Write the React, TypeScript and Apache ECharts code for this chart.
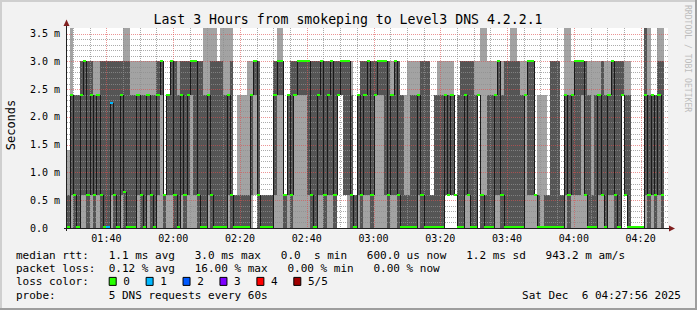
import { useEffect, useRef } from 'react';
import * as echarts from 'echarts';

// ---- time frame (minutes since midnight) ----
const FIRST_COLUMN_MINUTE = 88; // 01:28, each column = 1 minute step
const VIEW_START = 88.2;
const VIEW_END = 268.2;

// ---- smoke: 5 sorted pings per minute (ms) ----
const pingMin = [
  0, 0, 0, 0, 0, 0, 0, 0, 0, 0,
  0, 0, 0, 0, 0, 0, 0, 0, 0, 0,
  0, 0, 0, 0, 0, 0, 0, 0, 0, 0,
  0, 0, 0, 0, 0, 0, 0, 0, 0, 0,
  0, 0, 0, 0, 0, 0, 0, 0, 0, 0,
  0, 0, 0, 0, 0, 0, 0.6, 0, 0, 0,
  0, 0, 0, 0, 0, 0, 0, 0, 0, 0,
  0, 0, 0, 0, 0, 0, 0, 0, 0, 0,
  0, 2.4, 2.4, 0.6, 0, 0, 0, 0, 0, 0,
  0, 0, 0, 0, 0, 0, 0, 0, 0, 0,
  0, 0, 0, 0, 0, 0, 0, 0, 0, 0,
  0, 0, 0, 0.6, 0.6, 0.6, 0.6, 0, 0, 0,
  0, 0, 0, 2.4, 0, 0, 0, 0, 0, 0,
  0, 0, 0, 0, 0, 0, 0, 0, 0, 0,
  0, 0, 0, 0, 0, 0, 0, 0, 0, 0,
  0, 0, 0, 0, 0, 0, 0, 0, 0, 0,
  0, 0, 0, 0, 0, 0, 2.4, 0.6, 0, 0,
  0, 0, 0, 0, 0, 0, 0, 0, 0,
];
const pingQ1 = [
  0, 0.6, 0, 0, 0.6, 0.6, 0, 0.6, 0, 0.6,
  0, 0, 0, 0.6, 0, 0, 0.6, 0, 0, 0,
  0, 0.6, 0, 0, 0.6, 0, 0, 0.6, 2.4, 0,
  0.6, 0.6, 0, 0, 0.6, 0, 0.6, 2.4, 0.6, 0,
  0, 0, 0.6, 0, 0, 0, 0, 0, 0.6, 0,
  0, 0, 0, 0, 0, 0.6, 2.4, 0, 0, 0,
  0, 0, 0.6, 2.4, 2.4, 0, 0.6, 0, 2.4, 2.4,
  2.4, 2.4, 0.6, 0, 0, 0.6, 0.6, 0, 0.6, 0.6,
  0, 2.4, 2.4, 0.6, 0.6, 0, 0, 0.6, 0, 0.6,
  0.6, 0, 2.4, 2.4, 2.4, 0.6, 0, 0.6, 0.6, 0,
  0, 0, 0, 0, 0, 0.6, 0, 0, 0, 0,
  0, 0, 0, 0.6, 0.6, 0.6, 0.6, 0, 0, 0.6,
  0.6, 0, 0, 2.4, 0, 0, 0, 0, 0.6, 0.6,
  0, 0, 0, 0, 0, 0, 0, 2.4, 0.6, 0.6,
  0.6, 0, 0, 0, 0, 0, 0, 0, 0, 0.6,
  0, 0.6, 0.6, 0.6, 2.4, 0.6, 0, 0, 0, 0.6,
  0.6, 0, 0.6, 0.6, 0, 0, 2.4, 0.6, 0, 0,
  0, 0, 0, 0.6, 0, 0.6, 0, 0.6, 0,
];
const medianRtt = [
  0, 2.4, 0.6, 0, 2.4, 3.0, 0.6, 2.4, 0.6, 2.4,
  0.6, 0, 0, 2.25, 0.6, 0, 2.4, 0.65, 0, 0,
  0, 2.4, 0.6, 0, 2.4, 0.6, 0, 2.4, 3.0, 0.6,
  2.4, 3.0, 0.6, 0, 2.4, 0.6, 2.4, 3.0, 3.0, 0.6,
  0, 0, 2.4, 0.6, 0, 0, 0, 0, 2.4, 0.6,
  0, 0, 0, 0, 0, 2.4, 3.0, 0.6, 0, 0,
  0, 0, 2.4, 3.0, 3.0, 0.6, 2.4, 0.6, 2.4, 3.0,
  3.0, 3.0, 3.0, 0.6, 0, 2.4, 3.0, 0.6, 2.4, 3.0,
  0.6, 2.4, 3.0, 3.0, 3.0, 0.6, 0, 2.4, 0.6, 2.4,
  3.0, 0.6, 2.4, 3.0, 3.0, 3.0, 0.6, 2.4, 3.0, 0.6,
  0, 0, 0, 0, 0, 2.4, 0.6, 0, 0, 0,
  0, 0, 0, 2.4, 0.6, 2.4, 0.6, 0, 0, 2.4,
  0.6, 0, 0, 2.4, 0.6, 0, 0, 0, 2.4, 3.0,
  0.6, 0, 0, 0, 0, 0, 0, 2.4, 3.0, 3.0,
  0.6, 0, 0, 0, 0, 0, 0, 0, 0, 2.4,
  0.6, 2.4, 3.0, 3.0, 3.0, 0.6, 0, 0, 0, 2.4,
  0.6, 0, 2.4, 3.0, 0.6, 0, 2.4, 0.6, 0, 0,
  0, 0, 0, 2.4, 0.6, 2.4, 0.6, 2.4, 0.6,
];
const pingQ3 = [
  0.6, 2.4, 2.4, 2.4, 3.0, 3.0, 3.0, 3.0, 2.4, 2.4,
  3.0, 3.0, 3.0, 3.0, 3.0, 3.0, 3.0, 3.0, 3.0, 2.4,
  2.4, 2.4, 2.4, 2.4, 2.4, 2.4, 2.4, 3.0, 3.0, 0.6,
  2.4, 3.0, 3.0, 2.4, 3.0, 3.0, 3.0, 3.0, 3.0, 3.0,
  3.0, 2.4, 2.4, 3.0, 3.0, 3.0, 3.0, 2.4, 2.4, 3.0,
  0.6, 0.6, 0.6, 0.6, 0.6, 2.4, 3.0, 3.0, 0.6, 0.6,
  0.6, 0.6, 3.0, 3.0, 3.0, 0.6, 2.4, 3.0, 3.0, 3.0,
  3.0, 3.0, 3.0, 3.0, 3.0, 3.0, 3.0, 3.0, 3.0, 3.0,
  3.0, 3.0, 3.0, 3.0, 3.0, 2.4, 0.6, 2.4, 3.0, 3.0,
  3.0, 3.0, 3.0, 3.0, 3.0, 3.0, 3.0, 2.4, 3.0, 3.0,
  2.4, 0.6, 0.6, 2.4, 2.4, 2.4, 3.0, 3.0, 3.0, 0.6,
  2.4, 2.4, 2.4, 2.4, 2.4, 2.4, 0.6, 2.4, 3.0, 3.0,
  3.0, 3.0, 2.4, 2.4, 0.6, 0.6, 2.4, 2.4, 2.4, 3.0,
  2.4, 3.0, 3.0, 3.0, 3.0, 3.0, 2.4, 2.4, 3.0, 3.0,
  0.6, 0.6, 0, 0.6, 0.6, 3.0, 3.0, 3.0, 0.6, 2.4,
  2.4, 2.4, 3.0, 3.0, 3.0, 3.0, 2.4, 0.6, 2.4, 2.4,
  3.0, 2.4, 2.4, 3.0, 3.0, 3.0, 3.0, 2.4, 2.4, 0,
  0, 0, 0, 3.6, 2.4, 2.4, 2.4, 3.0, 3.0,
];
const pingMax = [
  1.4, 3.6, 2.4, 2.4, 3.0, 3.0, 3.0, 3.0, 3.0, 3.0,
  3.0, 3.0, 3.0, 3.0, 3.0, 3.0, 3.0, 3.6, 3.6, 3.0,
  3.0, 3.0, 3.0, 3.0, 3.0, 3.0, 3.0, 3.0, 3.0, 0.6,
  2.4, 3.0, 3.0, 3.0, 3.0, 3.0, 3.0, 3.0, 3.0, 3.0,
  3.0, 3.6, 3.6, 3.6, 3.6, 3.0, 3.6, 3.6, 3.6, 3.6,
  0.6, 2.4, 2.4, 2.4, 3.0, 3.0, 3.0, 3.0, 0.6, 0.6,
  0.6, 0.6, 3.0, 3.6, 3.6, 0.6, 2.4, 3.0, 3.0, 3.0,
  3.0, 3.0, 3.0, 3.0, 3.0, 3.0, 3.0, 3.0, 3.0, 3.0,
  3.0, 3.0, 3.0, 3.0, 3.0, 3.0, 0.6, 2.4, 3.0, 3.0,
  3.0, 3.0, 3.0, 3.0, 3.0, 3.0, 3.0, 3.0, 3.0, 3.0,
  2.4, 2.4, 3.0, 3.0, 3.0, 3.0, 3.0, 3.0, 3.0, 0.6,
  2.4, 3.0, 3.0, 3.0, 3.0, 3.0, 0.6, 2.4, 3.0, 3.0,
  3.0, 3.0, 3.0, 3.0, 3.6, 3.6, 3.0, 3.0, 3.0, 3.0,
  3.0, 3.0, 3.0, 3.6, 3.6, 3.0, 3.0, 3.0, 3.0, 3.0,
  0.6, 2.4, 2.4, 2.4, 0.6, 3.0, 3.0, 3.0, 0.6, 3.6,
  3.6, 3.0, 3.0, 3.0, 3.0, 3.0, 3.0, 3.0, 3.0, 3.0,
  3.0, 3.0, 3.0, 3.0, 3.0, 3.0, 3.0, 3.0, 3.0, 0,
  0, 0, 0, 3.6, 3.6, 2.4, 2.4, 3.6, 3.6,
];
// lost pings per minute (out of 5)
const lostPings = [
  0, 0, 0, 0, 0, 0, 0, 0, 0, 0,
  0, 0, 1, 1, 0, 0, 0, 0, 0, 0,
];

// ---- axes ----
const xLabelMinutes = [100, 120, 140, 160, 180, 200, 220, 240, 260];
const yLabelValues = [0, 0.5, 1.0, 1.5, 2.0, 2.5, 3.0, 3.5];

// ---- legend ----
const lossLegendLabels = ['0', '1', '2', '3', '4', '5/5'];
const lossColors = ['#26ff00', '#00b8ff', '#0059ff', '#7e00ff', '#ff0000', '#a00000'];
const legendRows: [string, number][][] = [
  [['median rtt:', 0], ['1.1 ms avg', 14], ['3.0 ms max', 27], ['0.0', 40], ['s min', 45], ['600.0 us now', 53], ['1.2 ms sd', 68], ['943.2 m am/s', 80]],
  [['packet loss:', 0], ['0.12 % avg', 14], ['16.00 % max', 27], ['0.00 % min', 41], ['0.00 % now', 54]],
  [['loss color:', 0]],
  [['probe:', 0], ['5 DNS requests every 60s', 14]],
];
const TITLE = 'Last 3 Hours from smokeping to Level3 DNS 4.2.2.1';
const Y_TITLE = 'Seconds';
const STAMP = ['Sat Dec', '6 04:27:56 2025'];
const WATERMARK = 'RRDTOOL / TOBI OETIKER';

const MONO = "'DejaVu Sans Mono', monospace";
const LIGHT = '#a3a3a3';
const DARK = '#555555';
const GRID_MINOR = 'rgba(143,143,143,0.75)';
const GRID_MAJOR = 'rgba(222,79,79,0.6)';

function pad2(n: number) {
  return String(n).padStart(2, '0');
}

export default function App() {
  const ref = useRef<HTMLDivElement>(null);

  useEffect(() => {
    if (!ref.current) return;
    const chart = echarts.init(ref.current, null, { renderer: 'svg', width: 697, height: 310 });

    const smokeData = pingMin.map((lo, j) => [FIRST_COLUMN_MINUTE + j, lo, pingQ1[j], pingQ3[j], pingMax[j]]);
    const medianData = medianRtt.map((m, j) => [
      FIRST_COLUMN_MINUTE + j,
      m,
      j > 0 ? medianRtt[j - 1] : m,
      lostPings[j] || 0,
    ]);

    const gridData: number[][] = [];
    for (let k = 1; k <= 35; k++) gridData.push([VIEW_START + 1, k / 10, 0, k % 5 === 0 ? 1 : 0]);
    for (let m = 90; m <= 265; m += 5) gridData.push([m, 0.1, 1, m % 20 === 0 ? 1 : 0]);

    const colX = (api: any, cs: any, t: number) => {
      let xa = Math.round(api.coord([t, 0])[0]);
      let xb = Math.round(api.coord([t + 1, 0])[0]);
      xa = Math.max(xa, cs.x);
      xb = Math.min(xb, cs.x + cs.width);
      return [xa, xb];
    };

    const smokeItem = (params: any, api: any) => {
      const cs = params.coordSys;
      const t = api.value(0);
      const [xa, xb] = colX(api, cs, t);
      if (xb <= xa) return null;
      const y = (v: number) => Math.round(api.coord([t, v])[1]);
      const lo = api.value(1), q1 = api.value(2), q3 = api.value(3), hi = api.value(4);
      const children: any[] = [];
      if (hi > lo) children.push({ type: 'rect', shape: { x: xa, y: y(hi), width: xb - xa, height: y(lo) - y(hi) }, style: { fill: LIGHT } });
      if (q3 > q1) children.push({ type: 'rect', shape: { x: xa, y: y(q3), width: xb - xa, height: y(q1) - y(q3) }, style: { fill: DARK } });
      return { type: 'group', children };
    };

    const medianItem = (params: any, api: any) => {
      const cs = params.coordSys;
      const t = api.value(0);
      const [xa, xb] = colX(api, cs, t);
      if (xb <= xa) return null;
      const y = (v: number) => Math.round(api.coord([t, v])[1]);
      const m = api.value(1), prev = api.value(2), loss = api.value(3);
      const ym = y(m);
      const bottom = cs.y + cs.height;
      const top = Math.min(ym - 1, bottom - 2);
      const children: any[] = [];
      if (prev !== m && params.dataIndex > 0) {
        const yp = y(prev);
        children.push({ type: 'rect', shape: { x: xa, y: Math.min(yp, ym), width: 1, height: Math.abs(yp - ym) }, style: { fill: '#1a1a1a' } });
      }
      children.push({ type: 'rect', shape: { x: xa, y: top, width: xb - xa, height: 2 }, style: { fill: lossColors[loss] } });
      return { type: 'group', children };
    };

    const gridItem = (params: any, api: any) => {
      const cs = params.coordSys;
      const vertical = api.value(2) === 1;
      const major = api.value(3) === 1;
      const stroke = major ? GRID_MAJOR : GRID_MINOR;
      if (vertical) {
        const x = Math.round(api.coord([api.value(0), 0])[0]) + 0.5;
        return { type: 'line', shape: { x1: x, y1: cs.y, x2: x, y2: cs.y + cs.height }, style: { stroke, lineWidth: 1, lineDash: [1, 1] } };
      }
      const yy = Math.round(api.coord([VIEW_START, api.value(1)])[1]) + 0.5;
      return { type: 'line', shape: { x1: cs.x, y1: yy, x2: cs.x + cs.width, y2: yy }, style: { stroke, lineWidth: 1, lineDash: [1, 1] } };
    };

    const graphics: any[] = [
      { type: 'rect', shape: { x: 0, y: 0, width: 697, height: 2 }, style: { fill: '#cfcfcf' }, z: 50 },
      { type: 'rect', shape: { x: 0, y: 0, width: 2, height: 310 }, style: { fill: '#cfcfcf' }, z: 50 },
      { type: 'rect', shape: { x: 0, y: 308, width: 697, height: 2 }, style: { fill: '#9e9e9e' }, z: 50 },
      { type: 'rect', shape: { x: 695, y: 0, width: 2, height: 310 }, style: { fill: '#9e9e9e' }, z: 50 },
      // axes
      { type: 'line', shape: { x1: 66.5, y1: 231, x2: 66.5, y2: 24 }, style: { stroke: '#1f1f1f', lineWidth: 1 }, z: 50 },
      { type: 'line', shape: { x1: 64, y1: 228.5, x2: 670, y2: 228.5 }, style: { stroke: '#1f1f1f', lineWidth: 1 }, z: 50 },
      { type: 'polygon', shape: { points: [[63.5, 26], [69.5, 26], [66.5, 19.5]] }, style: { fill: '#801f1f' }, z: 51 },
      { type: 'polygon', shape: { points: [[669, 225.5], [669, 231.5], [675, 228.5]] }, style: { fill: '#801f1f' }, z: 51 },
      // title
      { type: 'text', x: 348, y: 19, style: { text: TITLE, fontFamily: MONO, fontSize: 13.2, fill: '#000', textAlign: 'center', textVerticalAlign: 'middle' }, z: 50 },
      { type: 'text', x: 11, y: 125, rotation: Math.PI / 2, style: { text: Y_TITLE, fontFamily: MONO, fontSize: 12, fill: '#000', textAlign: 'center', textVerticalAlign: 'middle' }, z: 50 },
      { type: 'text', x: 688, y: 5, rotation: -Math.PI / 2, style: { text: WATERMARK, fontFamily: MONO, fontSize: 8.1, fill: '#bdbdbd', textAlign: 'left', textVerticalAlign: 'middle' }, z: 50 },
    ];

    const CW = 6.62;
    const X0 = 16;
    const rowY = [255.5, 268.7, 281.9, 295.1];
    legendRows.forEach((row, r) => {
      row.forEach(([txt, col]) => {
        graphics.push({ type: 'text', x: X0 + col * CW, y: rowY[r], style: { text: txt, fontFamily: MONO, fontSize: 11, fill: '#000', textAlign: 'left', textVerticalAlign: 'middle' }, z: 50 });
      });
    });
    lossLegendLabels.forEach((lab, i) => {
      const bx = 108.7 + i * 36.92;
      graphics.push({ type: 'rect', shape: { x: bx + 0.5, y: rowY[2] - 4.5, width: 7, height: 8 }, style: { fill: lossColors[i], stroke: '#000', lineWidth: 1 }, z: 50 });
      graphics.push({ type: 'text', x: bx + 14.6, y: rowY[2], style: { text: lab, fontFamily: MONO, fontSize: 11, fill: '#000', textAlign: 'left', textVerticalAlign: 'middle' }, z: 50 });
    });
    graphics.push({ type: 'text', x: 681, y: rowY[3], style: { text: STAMP[1], fontFamily: MONO, fontSize: 11, fill: '#000', textAlign: 'right', textVerticalAlign: 'middle' }, z: 50 });
    graphics.push({ type: 'text', x: 681 - (STAMP[1].length + 2) * CW, y: rowY[3], style: { text: STAMP[0], fontFamily: MONO, fontSize: 11, fill: '#000', textAlign: 'right', textVerticalAlign: 'middle' }, z: 50 });

    chart.setOption({
      animation: false,
      backgroundColor: '#f2f2f2',
      grid: { left: 67, top: 28, width: 601, height: 200, show: true, backgroundColor: '#ffffff', borderWidth: 0, containLabel: false },
      xAxis: {
        type: 'value', min: VIEW_START, max: VIEW_END,
        axisLine: { show: false }, axisTick: { show: false }, splitLine: { show: false },
        axisLabel: {
          customValues: xLabelMinutes,
          formatter: (v: number) => `${pad2(Math.floor(v / 60))}:${pad2(Math.round(v % 60))}`,
          fontFamily: MONO, fontSize: 10, color: '#000', margin: 5, lineHeight: 10,
        },
      },
      yAxis: {
        type: 'value', min: 0, max: 3.6,
        axisLine: { show: false }, axisTick: { show: false }, splitLine: { show: false },
        axisLabel: {
          customValues: yLabelValues,
          formatter: (v: number) => (v === 0 ? '0.0' : `${v.toFixed(1)} m`),
          fontFamily: MONO, fontSize: 10, color: '#000', margin: 37, align: 'left',
        },
      },
      graphic: { elements: graphics },
      series: [
        { type: 'custom', name: 'smoke', renderItem: smokeItem, data: smokeData, z: 2, silent: true, encode: { x: 0, y: 1 } },
        { type: 'custom', name: 'grid', renderItem: gridItem, data: gridData, z: 3, silent: true, encode: { x: 0, y: 1 } },
        { type: 'custom', name: 'median', renderItem: medianItem, data: medianData, z: 4, silent: true, encode: { x: 0, y: 1 } },
      ],
    });

    return () => chart.dispose();
  }, []);

  return <div ref={ref} style={{ position: 'fixed', left: 0, top: 0, width: 697, height: 310 }} />;
}
